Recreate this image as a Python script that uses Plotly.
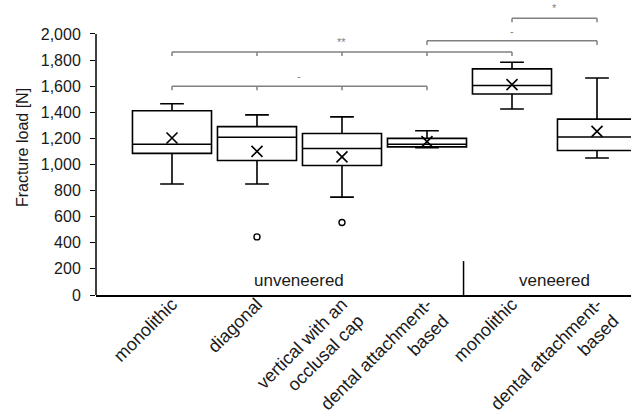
import plotly.graph_objects as go

# ---- data ----
categories = ["monolithic", "diagonal", "vertical with an<br>occlusal cap",
              "dental attachment-<br>based", "monolithic", "dental attachment-<br>based"]
lower_whisker = [850, 850, 750, 1128, 1425, 1050]
q1 = [1085, 1030, 992, 1135, 1540, 1107]
median = [1155, 1208, 1122, 1155, 1605, 1210]
q3 = [1412, 1290, 1237, 1200, 1732, 1347]
upper_whisker = [1465, 1380, 1365, 1258, 1783, 1662]
means = [1203, 1100, 1058, 1175, 1612, 1253]
outlier_group = [1, 2]
outlier_value = [445, 555]
y_ticks = [0, 200, 400, 600, 800, 1000, 1200, 1400, 1600, 1800, 2000]
group_names = ["unveneered", "veneered"]
group_members = [[0, 1, 2, 3], [4, 5]]
bracket_groups = [[0, 1, 2, 3], [0, 1, 2, 3, 4], [3, 5], [4, 5]]
bracket_levels = [1600, 1862, 1947, 2121]
bracket_labels = ["-", "**", "-", "*"]

FONT = "Liberation Sans, Arial, sans-serif"
xpos = list(range(len(categories)))

fig = go.Figure()
fig.add_trace(go.Box(
    x=xpos, q1=q1, median=median, q3=q3,
    lowerfence=lower_whisker, upperfence=upper_whisker,
    width=0.93, whiskerwidth=0.3,
    line=dict(color="black", width=1.6),
    fillcolor="white", boxpoints=False, showlegend=False,
))
fig.add_trace(go.Scatter(
    x=xpos, y=means, mode="markers",
    marker=dict(symbol="x-thin-open", size=11, color="black",
                line=dict(color="black", width=1.6)),
    showlegend=False,
))
fig.add_trace(go.Scatter(
    x=outlier_group, y=outlier_value, mode="markers",
    marker=dict(symbol="circle-open", size=6, color="black", line=dict(width=1.4)),
    showlegend=False,
))

shapes = []
annotations = []
GRAY = "#808080"
TICK = 31
for grp, lvl, lab in zip(bracket_groups, bracket_levels, bracket_labels):
    shapes.append(dict(type="line", xref="x", yref="y", x0=grp[0], x1=grp[-1],
                       y0=lvl, y1=lvl, line=dict(color=GRAY, width=1.5)))
    for g in grp:
        shapes.append(dict(type="line", xref="x", yref="y", x0=g, x1=g,
                           y0=lvl, y1=lvl - TICK, line=dict(color=GRAY, width=1.5)))
    annotations.append(dict(x=(grp[0] + grp[-1]) / 2, y=lvl, xref="x", yref="y",
                            text=lab, showarrow=False, yanchor="bottom", yshift=2,
                            font=dict(family=FONT, size=11, color=GRAY)))

for name, mem in zip(group_names, group_members):
    annotations.append(dict(x=(mem[0] + mem[-1]) / 2, y=0, xref="x", yref="y",
                            text=name, showarrow=False, yanchor="bottom", yshift=3,
                            font=dict(family=FONT, size=17, color="#1a1a1a")))

# divider between groups
shapes.append(dict(type="line", xref="x", yref="y", x0=3.43, x1=3.43, y0=0, y1=260,
                   line=dict(color="black", width=1.5)))
# y axis line up to last tick
shapes.append(dict(type="line", xref="paper", yref="y", x0=0, x1=0, y0=0, y1=y_ticks[-1],
                   line=dict(color="black", width=1.5)))

fig.update_layout(
    width=631, height=414,
    margin=dict(l=96, r=0, t=0, b=119, autoexpand=False),
    plot_bgcolor="white", paper_bgcolor="white",
    font=dict(family=FONT, color="#1a1a1a"),
    shapes=shapes, annotations=annotations,
    xaxis=dict(range=[-0.894, 5.4], tickvals=xpos, ticktext=categories,
               tickangle=-45, ticks="", showgrid=False, zeroline=False,
               showline=True, linecolor="black", linewidth=1.5, automargin=False,
               ticklabelstandoff=-10,
               tickfont=dict(family=FONT, size=18, color="#1a1a1a")),
    yaxis=dict(range=[0, 2260], tickvals=y_ticks, tickformat=",d",
               ticks="outside", ticklen=5, tickcolor="black", tickwidth=1.3,
               showgrid=False, zeroline=False, showline=False, automargin=False,
               ticklabelstandoff=6,
               tickfont=dict(family=FONT, size=16, color="#1a1a1a"),
               title=dict(text="Fracture load [N]", standoff=8,
                          font=dict(family=FONT, size=16, color="#1a1a1a"))),
)

fig.write_html("out.html", config={"displayModeBar": False},
               post_script="document.body.style.margin='0';document.body.style.overflow='hidden';")
